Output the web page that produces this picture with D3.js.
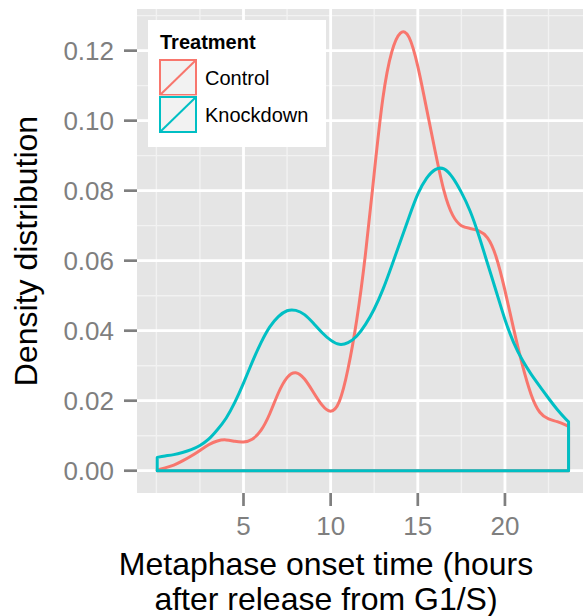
<!DOCTYPE html>
<html><head><meta charset="utf-8">
<script src="https://cdn.jsdelivr.net/npm/d3@7"></script>
<style>body{margin:0;background:#fff}svg{display:block}</style>
</head><body>
<svg id="chart" width="583" height="616"></svg>
<script>
// ---- data ----
const hours = [0.05,0.5,1,1.5,2,2.5,3,3.5,4,4.5,5,5.5,6,6.5,7,7.5,8,8.5,9,9.5,10,10.5,11,11.5,12,12.5,13,13.5,14,14.5,15,15.5,16,16.5,17,17.5,18,18.5,19,19.5,20,20.5,21,21.5,22,22.5,23,23.5,23.65];
const control = [0.0002,0.0008,0.0016,0.0028,0.0042,0.0058,0.0074,0.0085,0.0088,0.0084,0.0082,0.0090,0.0115,0.0162,0.0222,0.0266,0.0280,0.0262,0.0225,0.0188,0.0170,0.0198,0.0292,0.0432,0.0620,0.0850,0.1065,0.1195,0.1250,0.1238,0.1155,0.1035,0.0912,0.0800,0.0730,0.0700,0.0692,0.0685,0.0665,0.0610,0.0515,0.0405,0.0302,0.0218,0.0167,0.0148,0.0140,0.0130,0.0126];
const knockdown = [0.0038,0.0042,0.0046,0.0052,0.0060,0.0072,0.0090,0.0117,0.0150,0.0195,0.0250,0.0310,0.0365,0.0410,0.0440,0.0457,0.0458,0.0446,0.0422,0.0395,0.0373,0.0361,0.0366,0.0385,0.0418,0.0462,0.0518,0.0585,0.0655,0.0725,0.0790,0.0835,0.0860,0.0862,0.0837,0.0795,0.0742,0.0672,0.0592,0.0512,0.0432,0.0366,0.0316,0.0276,0.0241,0.0207,0.0175,0.0147,0.0140];
const seriesNames = ["Control","Knockdown"];
const seriesColors = ["#F8766D","#00BFC4"];
const xTicks = [5,10,15,20];
const xMinor = [0,2.5,7.5,12.5,17.5,22.5];
const yTicks = [0,0.02,0.04,0.06,0.08,0.10,0.12];
const yMinor = [0.01,0.03,0.05,0.07,0.09,0.11,0.13];
const xTitle = ["Metaphase onset time (hours","after release from G1/S)"];
const yTitle = "Density distribution";
const legendTitle = "Treatment";

// ---- layout ----
const svg = d3.select("#chart");
const font = "'Liberation Sans', Arial, Helvetica, sans-serif";
const panel = {left:137, right:590, top:9, bottom:493};
const xs = d3.scaleLinear().domain([-1.11, 24.88]).range([panel.left, panel.right]);
const ys = d3.scaleLinear().domain([-0.00637, 0.1319]).range([panel.bottom, panel.top]);

svg.append("defs").append("clipPath").attr("id","pclip")
  .append("rect").attr("x",panel.left).attr("y",panel.top)
  .attr("width",panel.right-panel.left).attr("height",panel.bottom-panel.top);

svg.append("rect").attr("x",panel.left).attr("y",panel.top)
  .attr("width",panel.right-panel.left).attr("height",panel.bottom-panel.top)
  .attr("fill","#E5E5E5");

const grid = svg.append("g").attr("clip-path","url(#pclip)");
grid.selectAll(".vmin").data(xMinor).join("line")
  .attr("x1",d=>xs(d)).attr("x2",d=>xs(d)).attr("y1",panel.top).attr("y2",panel.bottom)
  .attr("stroke","#F2F2F2").attr("stroke-width",1.4);
grid.selectAll(".hmin").data(yMinor).join("line")
  .attr("y1",d=>ys(d)).attr("y2",d=>ys(d)).attr("x1",panel.left).attr("x2",panel.right)
  .attr("stroke","#F2F2F2").attr("stroke-width",1.4);
grid.selectAll(".vmaj").data(xTicks).join("line")
  .attr("x1",d=>xs(d)).attr("x2",d=>xs(d)).attr("y1",panel.top).attr("y2",panel.bottom)
  .attr("stroke","#FFFFFF").attr("stroke-width",2.8);
grid.selectAll(".hmaj").data(yTicks).join("line")
  .attr("y1",d=>ys(d)).attr("y2",d=>ys(d)).attr("x1",panel.left).attr("x2",panel.right)
  .attr("stroke","#FFFFFF").attr("stroke-width",2.8);

// ---- density outlines ----
const line = d3.line().x(d=>xs(d[0])).y(d=>ys(d[1])).curve(d3.curveNatural);
const series = [control, knockdown];
const marks = svg.append("g").attr("clip-path","url(#pclip)");
series.forEach((vals,i)=>{
  const pts = hours.map((h,j)=>[h, vals[j]]);
  const p = line(pts) + "L" + xs(hours[hours.length-1]) + "," + ys(0) + "L" + xs(hours[0]) + "," + ys(0) + "Z";
  marks.append("path").attr("d",p).attr("fill","none")
    .attr("stroke",seriesColors[i]).attr("stroke-width",3).attr("stroke-linejoin","round");
});

// ---- axes ----
const tickCol = "#7F7F7F";
const ax = svg.append("g");
ax.selectAll(".yt").data(yTicks).join("line")
  .attr("x1",panel.left-13).attr("x2",panel.left).attr("y1",d=>ys(d)).attr("y2",d=>ys(d))
  .attr("stroke",tickCol).attr("stroke-width",2.7);
ax.selectAll(".yl").data(yTicks).join("text")
  .attr("x",114).attr("y",d=>ys(d)).attr("dy","0.36em").attr("text-anchor","end")
  .attr("font-family",font).attr("font-size",26).attr("fill",tickCol)
  .text(d=>d3.format(".2f")(d));
ax.selectAll(".xt").data(xTicks).join("line")
  .attr("y1",panel.bottom).attr("y2",panel.bottom+13).attr("x1",d=>xs(d)).attr("x2",d=>xs(d))
  .attr("stroke",tickCol).attr("stroke-width",2.7);
ax.selectAll(".xl").data(xTicks).join("text")
  .attr("x",d=>xs(d)).attr("y",535).attr("text-anchor","middle")
  .attr("font-family",font).attr("font-size",26).attr("fill",tickCol)
  .text(d=>d);

svg.selectAll(".xtitle").data(xTitle).join("text")
  .attr("x",326).attr("y",(d,i)=>575+i*35).attr("text-anchor","middle")
  .attr("font-family",font).attr("font-size",32).attr("fill","#000").text(d=>d);
svg.append("text").attr("transform","translate(37,251) rotate(-90)")
  .attr("text-anchor","middle").attr("font-family",font).attr("font-size",32)
  .attr("fill","#000").text(yTitle);

// ---- legend ----
const lg = svg.append("g");
lg.append("rect").attr("x",148).attr("y",20).attr("width",178).attr("height",127).attr("fill","#fff");
lg.append("text").attr("x",160).attr("y",49).attr("font-family",font).attr("font-weight","bold")
  .attr("font-size",20).attr("fill","#000").text(legendTitle);
seriesNames.forEach((n,i)=>{
  const ky = 59 + i*37;
  lg.append("rect").attr("x",159).attr("y",ky).attr("width",38).attr("height",37)
    .attr("fill","#F2F2F2").attr("stroke","#fff").attr("stroke-width",1);
  lg.append("rect").attr("x",160).attr("y",ky+1).attr("width",36).attr("height",35)
    .attr("fill","none").attr("stroke",seriesColors[i]).attr("stroke-width",2);
  lg.append("line").attr("x1",160).attr("y1",ky+36).attr("x2",196).attr("y2",ky+1)
    .attr("stroke",seriesColors[i]).attr("stroke-width",2);
  lg.append("text").attr("x",205).attr("y",ky+26).attr("font-family",font)
    .attr("font-size",20).attr("fill","#000").text(n);
});
</script>
</body></html>
